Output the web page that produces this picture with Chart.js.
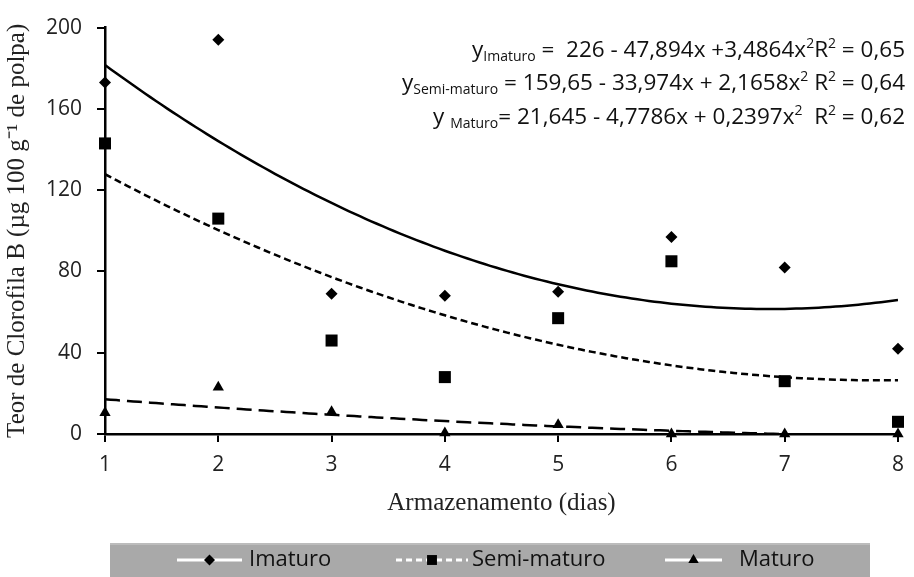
<!DOCTYPE html>
<html>
<head>
<meta charset="utf-8">
<script src="https://cdn.jsdelivr.net/npm/chart.js@4.4.1/dist/chart.umd.min.js"></script>
<style>
  html, body { margin: 0; padding: 0; background: #fff; }
  #wrap { width: 914px; height: 577px; }
</style>
</head>
<body>
<div id="wrap"><canvas id="chart" width="914" height="577"></canvas></div>
<script>
const dias = [1, 2, 3, 4, 5, 6, 7, 8]
const imaturo = [173, 194, 69, 68, 70, 97, 82, 42]
const semiMaturo = [143, 106, 46, 28, 57, 85, 26, 6]
const maturo = [10.5, 23, 11, 0.5, 4.5, 0, 0, 0]
const yTicks = [0, 40, 80, 120, 160, 200]

// coeficientes das regressões: a + b*x + c*x²
const coefImaturo = [226, -47.894, 3.4864]
const coefSemiMaturo = [159.65, -33.974, 2.1658]
const coefMaturo = [21.645, -4.7786, 0.2397]

const equacoes = [
    [['y', 'n'], ['Imaturo', 's'], [' =  226 - 47,894x +3,4864x', 'n'], ['2', 'p'], ['R', 'n'], ['2', 'p'], [' = 0,65', 'n']],
    [['y', 'n'], ['Semi-maturo', 's'], [' = 159,65 - 33,974x + 2,1658x', 'n'], ['2', 'p'], [' R', 'n'], ['2', 'p'], [' = 0,64', 'n']],
    [['y ', 'n'], ['Maturo', 's'], ['= 21,645 - 4,7786x + 0,2397x', 'n'], ['2', 'p'], ['  R', 'n'], ['2', 'p'], [' = 0,62', 'n']]
]

const FONT_NUM = 'Open Sans'
const FONT_SERIF = 'Liberation Serif'

function pontos(valores){
    return dias.map((d, i) => ({ x: d, y: valores[i] }))
}

function curva(coef){
    const pts = []
    for(let i = 0; i <= 140; i++){
        const x = 1 + i * 0.05
        pts.push({ x: x, y: coef[0] + coef[1] * x + coef[2] * x * x })
    }
    return pts
}

function linhaCurva(coef, dash){
    return {
        data: curva(coef),
        showLine: true,
        borderColor: '#000',
        borderWidth: 2.5,
        borderDash: dash,
        pointRadius: 0,
        tension: 0
    }
}

function serieMarcadores(valores, estilo, raio){
    return {
        data: pontos(valores),
        pointStyle: estilo,
        pointRadius: raio,
        pointBackgroundColor: '#000',
        pointBorderColor: '#000',
        pointBorderWidth: 0,
        showLine: false,
        clip: false
    }
}

// equações no canto superior direito
const equacoesPlugin = {
    id: 'equacoes',
    afterDraw(chart){
        const ctx = chart.ctx
        const baselines = [57, 90, 124]
        const fontes = {
            n: '22.5px "' + FONT_NUM + '"',
            s: '14px "' + FONT_NUM + '"',
            p: '14px "' + FONT_NUM + '"'
        }
        const desloc = { n: 0, s: 4, p: -9 }
        ctx.save()
        ctx.fillStyle = '#111'
        ctx.textBaseline = 'alphabetic'
        ctx.textAlign = 'left'
        equacoes.forEach((partes, i) => {
            let total = 0
            partes.forEach(p => {
                ctx.font = fontes[p[1]]
                total += ctx.measureText(p[0]).width
            })
            let x = 905 - total
            partes.forEach(p => {
                ctx.font = fontes[p[1]]
                ctx.fillText(p[0], x, baselines[i] + desloc[p[1]])
                x += ctx.measureText(p[0]).width
            })
        })
        ctx.restore()
    }
}

// legenda em faixa cinza abaixo do eixo
const legendaPlugin = {
    id: 'legendaCinza',
    afterDraw(chart){
        const ctx = chart.ctx
        const itens = [
            { texto: 'Imaturo', estilo: 'rectRot', raio: 5.5, dash: [], x0: 177, x1: 242, tx: 249 },
            { texto: 'Semi-maturo', estilo: 'rect', raio: 7, dash: [6, 4], x0: 396, x1: 468, tx: 472 },
            { texto: 'Maturo', estilo: 'triangle', raio: 6, dash: [], x0: 665, x1: 722, tx: 739 }
        ]
        const yc = 560
        ctx.save()
        ctx.fillStyle = '#a9a9a9'
        ctx.fillRect(110, 543, 760, 34)
        ctx.fillStyle = '#bcbcbc'
        ctx.fillRect(110, 543, 760, 2)
        itens.forEach(it => {
            ctx.strokeStyle = '#fff'
            ctx.lineWidth = 3
            ctx.setLineDash(it.dash)
            ctx.beginPath()
            ctx.moveTo(it.x0, yc)
            ctx.lineTo(it.x1, yc)
            ctx.stroke()
            ctx.setLineDash([])
            ctx.fillStyle = '#000'
            Chart.helpers.drawPoint(ctx, { pointStyle: it.estilo, radius: it.raio, rotation: 0, borderWidth: 0 }, (it.x0 + it.x1) / 2, yc)
            ctx.fillStyle = '#111'
            ctx.font = '22px "' + FONT_NUM + '"'
            ctx.textBaseline = 'middle'
            ctx.fillText(it.texto, it.tx, yc)
        })
        ctx.restore()
    }
}

const ctx = document.getElementById('chart').getContext('2d')

new Chart(ctx, {
    type: 'scatter',
    data: {
        datasets: [
            linhaCurva(coefImaturo, []),
            linhaCurva(coefSemiMaturo, [7, 4]),
            linhaCurva(coefMaturo, [15, 7]),
            serieMarcadores(imaturo, 'rectRot', 6),
            serieMarcadores(semiMaturo, 'rect', 8.5),
            serieMarcadores(maturo, 'triangle', 6.5)
        ]
    },
    options: {
        responsive: false,
        animation: false,
        layout: { padding: { left: 0, right: 15, top: 18, bottom: 0 } },
        plugins: {
            legend: { display: false },
            tooltip: { enabled: false }
        },
        scales: {
            x: {
                type: 'linear',
                min: 1,
                max: 8,
                afterFit: s => { s.height = 143 },
                afterBuildTicks: s => { s.ticks = dias.map(v => ({ value: v })) },
                ticks: { color: '#222', font: { family: FONT_NUM, size: 21 }, padding: 10 },
                grid: { drawOnChartArea: false, drawTicks: true, tickLength: 8, color: '#000', lineWidth: 2 },
                border: { display: true, color: '#000', width: 2.5 },
                title: {
                    display: true,
                    text: 'Armazenamento (dias)',
                    color: '#222',
                    font: { family: FONT_SERIF, size: 25 },
                    padding: { top: 0, bottom: 59 }
                }
            },
            y: {
                min: 0,
                max: 200,
                afterFit: s => { s.width = 105 },
                afterBuildTicks: s => { s.ticks = yTicks.map(v => ({ value: v })) },
                ticks: { color: '#222', font: { family: FONT_NUM, size: 21 }, padding: 15 },
                grid: { drawOnChartArea: false, drawTicks: true, tickLength: 8, color: '#000', lineWidth: 2 },
                border: { display: true, color: '#000', width: 2.5 },
                title: {
                    display: true,
                    text: 'Teor de Clorofila B (µg 100 g⁻¹ de polpa)',
                    color: '#222',
                    font: { family: FONT_SERIF, size: 25 },
                    padding: { top: 2, bottom: 0 }
                }
            }
        }
    },
    plugins: [equacoesPlugin, legendaPlugin]
})
</script>
</body>
</html>
